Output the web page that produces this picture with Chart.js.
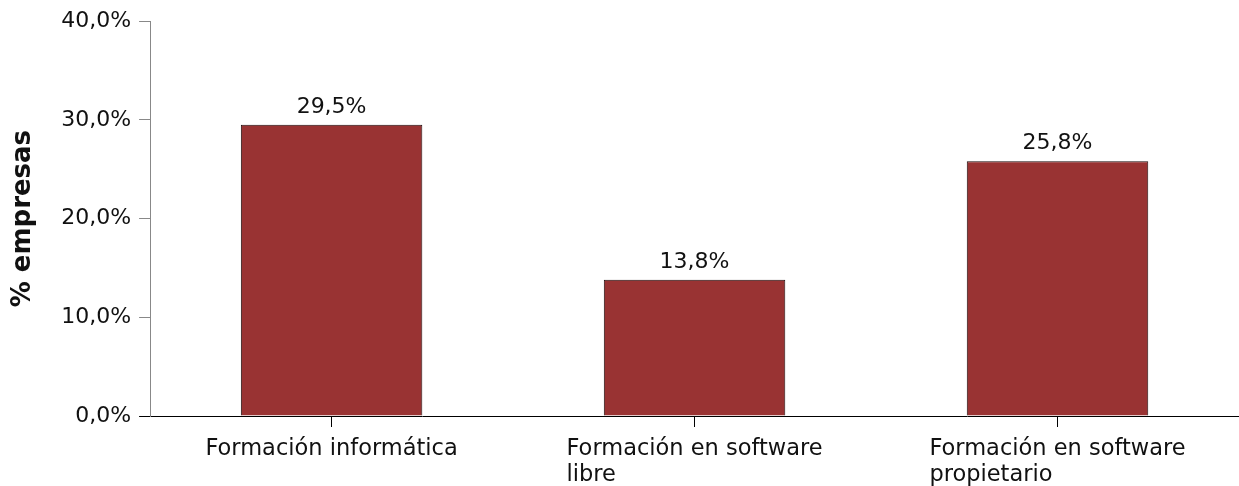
<!DOCTYPE html>
<html>
<head>
<meta charset="utf-8">
<script src="https://cdn.jsdelivr.net/npm/chart.js@4.4.1/dist/chart.umd.min.js"></script>
<style>
  html, body { margin: 0; padding: 0; background: #fff; }
  #wrap { width: 1239px; height: 486px; position: relative; }
</style>
</head>
<body>
<div id="wrap"><canvas id="chart"></canvas></div>
<script>
const categories = [
    ['Formación informática'],
    ['Formación en software', 'libre'],
    ['Formación en software', 'propietario']
];
const values = [29.5, 13.8, 25.8];
const yTicks = [0, 10, 20, 30, 40];

const FONT = "'DejaVu Sans', sans-serif";
const TEXT = '#111';

function pct(v) {
    return v.toFixed(1).replace('.', ',') + '%';
}

// value labels above the bars
const barLabels = {
    id: 'barLabels',
    afterDatasetsDraw(chart) {
        const ctx = chart.ctx;
        const meta = chart.getDatasetMeta(0);
        ctx.save();
        ctx.font = '22px ' + FONT;
        ctx.fillStyle = TEXT;
        ctx.textAlign = 'center';
        ctx.textBaseline = 'alphabetic';
        meta.data.forEach((bar, i) => {
            ctx.fillText(pct(values[i]), bar.x, bar.y - 12);
        });
        ctx.restore();
    }
};

// category labels: block centred on the tick, lines left aligned
const xLabels = {
    id: 'xLabels',
    afterDraw(chart) {
        const ctx = chart.ctx;
        const xs = chart.scales.x;
        const base = chart.chartArea.bottom;
        ctx.save();
        ctx.font = '22.5px ' + FONT;
        ctx.fillStyle = TEXT;
        ctx.textAlign = 'left';
        ctx.textBaseline = 'alphabetic';
        categories.forEach((lines, i) => {
            const cx = xs.getPixelForValue(i);
            const w = Math.max(...lines.map(l => ctx.measureText(l).width));
            lines.forEach((l, j) => {
                ctx.fillText(l, cx - w / 2, base + 39 + j * 26);
            });
        });
        ctx.restore();
    }
};

new Chart(document.getElementById('chart'), {
    type: 'bar',
    data: {
        labels: categories,
        datasets: [{
            data: values,
            backgroundColor: '#993333',
            borderColor: '#1e0c0c',
            borderWidth: 1,
            barPercentage: 0.5,
            categoryPercentage: 1.0
        }]
    },
    options: {
        responsive: true,
        maintainAspectRatio: false,
        animation: false,
        layout: { padding: { top: 7, bottom: 59, left: 8, right: 0 } },
        plugins: {
            legend: { display: false },
            tooltip: { enabled: false }
        },
        scales: {
            x: {
                offset: true,
                border: { color: '#000', width: 1 },
                grid: { drawOnChartArea: false, offset: false, tickLength: 11, color: '#000' },
                ticks: { display: false }
            },
            y: {
                min: 0,
                max: 40,
                afterBuildTicks(scale) {
                    scale.ticks = yTicks.map(v => ({ value: v }));
                },
                border: { color: '#888', width: 1 },
                grid: {
                    drawOnChartArea: false,
                    tickLength: 11,
                    color: ctx => ctx.index === 0 ? '#000' : '#888'
                },
                ticks: {
                    padding: 8,
                    color: TEXT,
                    font: { family: FONT, size: 22 },
                    callback: v => pct(v)
                },
                title: {
                    display: true,
                    text: '% empresas',
                    color: TEXT,
                    font: { family: FONT, size: 26, weight: 'bold' },
                    padding: { top: 0, bottom: 14 }
                }
            }
        }
    },
    plugins: [barLabels, xLabels]
});
</script>
</body>
</html>
